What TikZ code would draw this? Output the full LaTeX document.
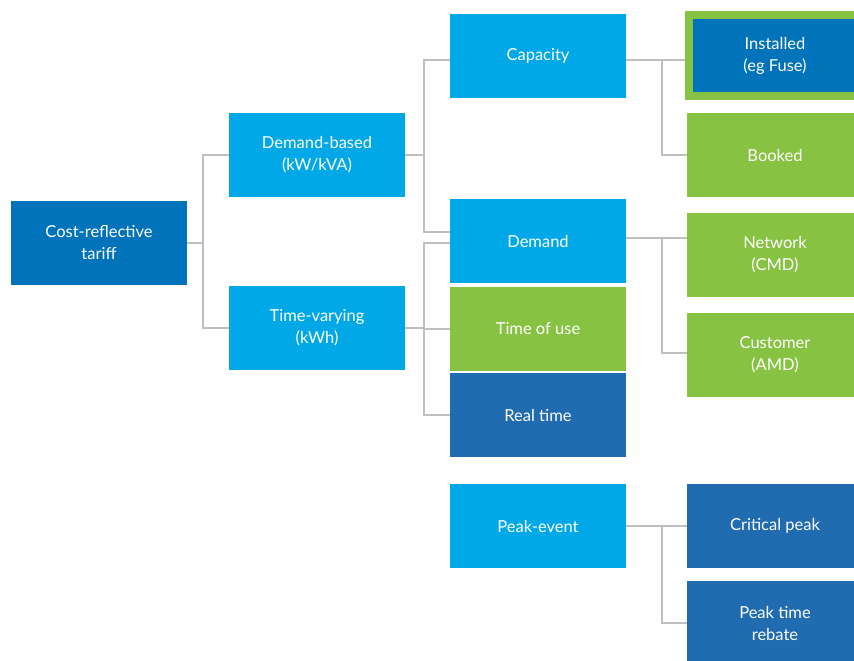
\documentclass[tikz,border=0pt]{standalone}
\usepackage{fontspec}
\setmainfont{Lato}
\usepackage{tikz}
\usepackage{color}
\definecolor{tariffblue}{rgb}{0, 0.45, 0.73}
\definecolor{skyblue}{rgb}{0, 0.66, 0.91}
\definecolor{leafgreen}{rgb}{0.53, 0.76, 0.26}
\definecolor{midblue}{rgb}{0.13, 0.42, 0.69}
\definecolor{linegray}{rgb}{0.75, 0.75, 0.76}
\tikzstyle{tbox} = [rectangle,text=white,align=center,minimum width=176pt,minimum height=84pt,inner sep=0pt,font=\fontsize{16.5}{22}\selectfont]
\tikzstyle{dark} = [tbox,fill=tariffblue]
\tikzstyle{light} = [tbox,fill=skyblue]
\tikzstyle{leaf} = [tbox,fill=leafgreen]
\tikzstyle{mid} = [tbox,fill=midblue]
\tikzstyle{framed} = [tbox,fill=tariffblue,draw=leafgreen,line width=8pt,minimum width=172pt,minimum height=81pt]
\tikzstyle{link} = [draw=linegray,line width=1.6pt]

\begin{document}
\begin{tikzpicture}[node distance=220pt]
		\clip (-99pt,243pt) rectangle (755pt,-418pt);
		\node [dark](cost){Cost-reflective\\tariff};
		\node [light,right of=cost,xshift=-2pt,yshift=88pt](dem){Demand-based\\(kW/kVA)};
		\node [light,right of=cost,xshift=-2pt,yshift=-85pt](tv){Time-varying\\(kWh)};
		\node [light,right of=dem,xshift=1pt,yshift=99pt](cap){Capacity};
		\node [light,right of=dem,xshift=1pt,yshift=-86pt](demand){Demand};
		\node [leaf,node distance=88pt,below of=demand](tou){Time of use};
		\node [mid,node distance=86pt,below of=tou](rt){Real time};
		\node [light,node distance=111pt,below of=rt](peak){Peak-event};
		\node [framed,node distance=237pt,right of=cap](inst){Installed\\(eg Fuse)};
		\node [leaf,node distance=99pt,below of=inst](booked){Booked};
		\node [leaf,node distance=237pt,right of=demand,yshift=-14pt](network){Network\\(CMD)};
		\node [leaf,node distance=100pt,below of=network](customer){Customer\\(AMD)};
		\node [mid,node distance=237pt,right of=peak](critical){Critical peak};
		\node [mid,node distance=97pt,below of=critical](rebate){Peak time\\rebate};

		\draw[link](cost.east)--++(16pt,0) coordinate (j1);
		\draw[link](j1)|-(dem.west);
		\draw[link](j1)|-(tv.west);
		\draw[link](dem.east)--++(19pt,0) coordinate (j2);
		\draw[link](j2)|-([yshift=-4pt]cap.west);
		\draw[link](j2)|-([yshift=9pt]demand.west);
		\draw[link](tv.east)--++(19pt,0) coordinate (j3);
		\draw[link](j3)|-([yshift=-2pt]demand.west);
		\draw[link](j3)|-(tou.west);
		\draw[link](j3)|-(rt.west);
		\draw[link]([yshift=-4pt]cap.east)--++(36pt,0) coordinate (j4);
		\draw[link](j4)|-([yshift=-4pt]inst.west);
		\draw[link](j4)|-(booked.west);
		\draw[link]([yshift=3pt]demand.east)--++(36pt,0) coordinate (j5);
		\draw[link](j5)|-([yshift=17pt]network.west);
		\draw[link](j5)|-([yshift=2pt]customer.west);
		\draw[link](peak.east)--++(36pt,0) coordinate (j6);
		\draw[link](j6)|-(critical.west);
		\draw[link](j6)|-(rebate.west);
		\end{tikzpicture}
\end{document}
